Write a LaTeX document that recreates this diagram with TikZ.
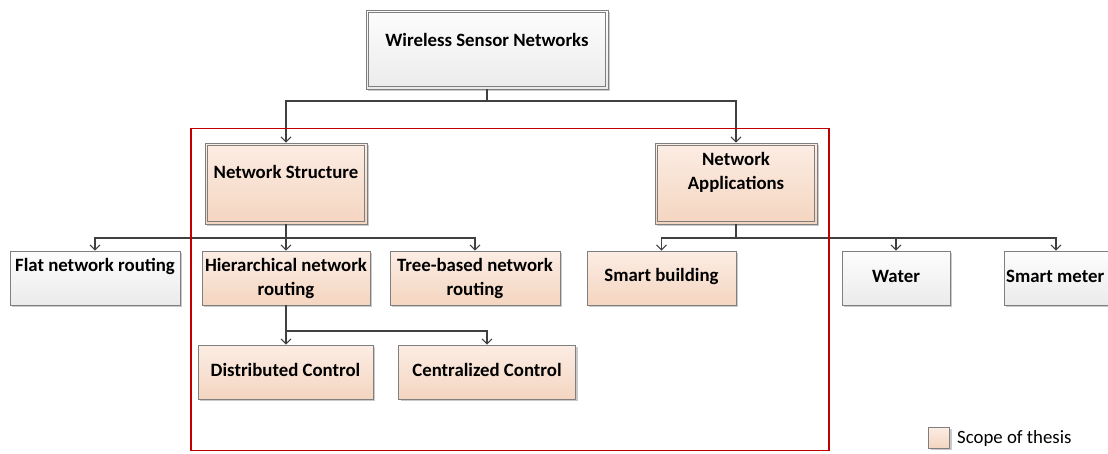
\documentclass[tikz,border=0pt]{standalone}
\usepackage{fontspec}
\setmainfont{Carlito}
\usetikzlibrary{arrows.meta,shadows}
\definecolor{linegray}{HTML}{404040}
\definecolor{boxline}{HTML}{7F7F7F}
\definecolor{peachtop}{HTML}{FCEDE4}
\definecolor{peachbot}{HTML}{F4D5C0}
\definecolor{graytop}{HTML}{FDFDFD}
\definecolor{graybot}{HTML}{EBEBEB}
\definecolor{scopered}{HTML}{C00000}
\tikzset{
  shadowed/.style={drop shadow={shadow xshift=2pt,shadow yshift=-2pt,fill=black!35,opacity=0.6}},
  peachbox/.style={draw=boxline,line width=0.8pt,top color=peachtop,bottom color=peachbot,shadowed,inner sep=0pt},
  graybox/.style={draw=boxline,line width=0.8pt,top color=graytop,bottom color=graybot,shadowed,inner sep=0pt},
  innerline/.style={draw=boxline,line width=0.8pt},
  lbl/.style={font=\fontsize{18.8}{24}\selectfont\bfseries,align=center,inner sep=0pt},
  conn/.style={draw=linegray,line width=1.1pt},
  arr/.style={conn,-{Straight Barb[length=5pt,width=10pt,line width=1pt]}},
}
\begin{document}
\begin{tikzpicture}[x=1pt,y=-1pt]
\useasboundingbox (0,0) rectangle (1108,453);
% boxes
\node[graybox,minimum width=242pt,minimum height=79pt] (wsn) at (487,49.5) {};
\node[peachbox,minimum width=162pt,minimum height=81pt] (ns) at (286,183.5) {};
\node[peachbox,minimum width=162pt,minimum height=81pt] (na) at (736,183.5) {};
\foreach \b in {wsn,ns,na}
  \draw[innerline] ([shift={(3pt,-3pt)}]\b.north west) rectangle ([shift={(-3pt,3pt)}]\b.south east);
\node[graybox,minimum width=170pt,minimum height=54pt] (flat) at (95,278) {};
\node[peachbox,minimum width=168pt,minimum height=54pt] (hier) at (286,278) {};
\node[peachbox,minimum width=170pt,minimum height=54pt] (tree) at (475,278) {};
\node[peachbox,minimum width=149pt,minimum height=54pt] (sb) at (661.5,278) {};
\node[graybox,minimum width=108pt,minimum height=54pt] (water) at (896,278) {};
\node[graybox,minimum width=104pt,minimum height=54pt] (sm) at (1056,278) {};
\node[peachbox,minimum width=175pt,minimum height=54pt] (dist) at (285.5,372) {};
\node[peachbox,minimum width=177pt,minimum height=54pt] (cent) at (487,372) {};
% labels
\node[lbl] (twsn) at (487,40) {Wireless Sensor Networks};
\node[lbl] (tns) at (286,172) {Network Structure};
\node[lbl] (tna) at (736,172.5) {Network\\Applications};
\node[lbl] (tflat) at (95,266) {Flat network routing};
\node[lbl] (thier) at (286,278) {Hierarchical network\\routing};
\node[lbl] (ttree) at (475,278) {Tree-based network\\routing};
\node[lbl] (tsb) at (661.5,276) {Smart building};
\node[lbl] (twater) at (896,276) {Water};
\node[lbl,anchor=west] (tsm) at (1006,276) {Smart meter};
\node[lbl] (tdist) at (285.5,370) {Distributed Control};
\node[lbl] (tcent) at (487,370) {Centralized Control};
% connectors
\coordinate (j1) at (487,101);
\coordinate (j2) at (286,238);
\coordinate (j3) at (736,238);
\coordinate (j4) at (286,331);
\draw[conn] (wsn.south) -- (j1);
\draw[arr] (j1) -| (ns.north);
\draw[arr] (j1) -| (na.north);
\draw[conn] (ns.south) -- (j2);
\draw[arr] (j2) -| (flat.north);
\draw[arr] (j2) -- (hier.north);
\draw[arr] (j2) -| (tree.north);
\draw[conn] (na.south) -- (j3);
\draw[arr] (j3) -| (sb.north);
\draw[arr] (j3) -| (water.north);
\draw[arr] (j3) -| (sm.north);
\draw[conn] (hier.south) -- (j4);
\draw[arr] (j4) -- (j4 |- dist.north);
\draw[arr] (j4) -| (cent.north);
% scope frame
\node[draw=scopered,line width=1.8pt,minimum width=638pt,minimum height=322pt,inner sep=0pt] (scope) at (510,289.5) {};
% legend
\node[peachbox,minimum width=21pt,minimum height=21pt] (legbox) at (939,437.5) {};
\node[font=\fontsize{18.8}{22}\selectfont,anchor=west,inner sep=0pt] (legtxt) at (957,438) {Scope of thesis};
\end{tikzpicture}
\end{document}
